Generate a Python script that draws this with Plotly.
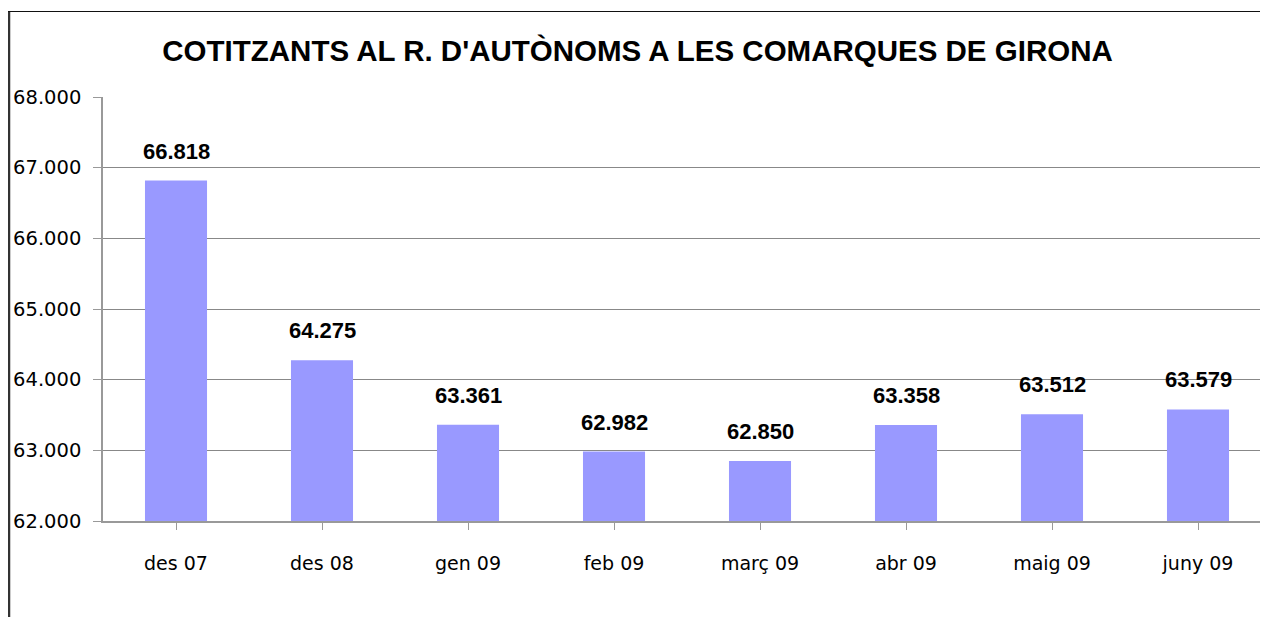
import plotly.graph_objects as go

categories = ["des 07", "des 08", "gen 09", "feb 09", "març 09", "abr 09", "maig 09", "juny 09"]
values = [66818, 64275, 63361, 62982, 62850, 63358, 63512, 63579]
y_ticks = [62000, 63000, 64000, 65000, 66000, 67000, 68000]
y_tick_labels = ["62.000", "63.000", "64.000", "65.000", "66.000", "67.000", "68.000"]
title_text = "COTITZANTS AL R. D'AUTÒNOMS A LES COMARQUES DE GIRONA"

# page is offset by the default 8px body margin
OFF = 8
W, H = 1268 - OFF, 617 - OFF
L, R, T, B = 103 - OFF, 0, 97 - OFF, 617 - 521
pw = W - L - R
ph = H - T - B
cat_px = 146.0

fig = go.Figure()
fig.add_trace(go.Bar(
    x=list(range(len(categories))), y=values,
    marker=dict(color="#9999FF", line=dict(width=0)),
    width=0.425, hoverinfo="skip",
))

annotations = []
for i, v in enumerate(values):
    annotations.append(dict(
        x=i, y=v, xref="x", yref="y", text=f"{v:,}".replace(",", "."),
        showarrow=False, yanchor="bottom", yshift=15,
        font=dict(family="Liberation Sans", size=22, color="black", weight="bold"),
    ))

def px_to_paper_x(px):
    return (px - OFF - L) / pw

def py_to_paper_y(py):
    return 1 + (T - (py - OFF)) / ph

shapes = [
    dict(type="line", xref="paper", yref="paper",
         x0=px_to_paper_x(9), x1=px_to_paper_x(9), y0=py_to_paper_y(11), y1=py_to_paper_y(640),
         line=dict(color="#333333", width=2.5)),
    dict(type="line", xref="paper", yref="paper",
         x0=px_to_paper_x(8), x1=px_to_paper_x(1300), y0=py_to_paper_y(11.5), y1=py_to_paper_y(11.5),
         line=dict(color="#111111", width=1.2)),
]

x_max = -0.5 + pw / cat_px

fig.update_layout(
    width=W, height=H,
    margin=dict(l=L, r=R, t=T, b=B, pad=0),
    paper_bgcolor="white", plot_bgcolor="white",
    separators=",.",
    showlegend=False,
    title=dict(text=title_text, x=(637.5 - OFF) / W, xanchor="center", xref="container",
               y=1 - (51 - OFF) / H, yanchor="middle", yref="container",
               font=dict(family="Liberation Sans", size=29.5, color="black", weight="bold")),
    annotations=annotations,
    shapes=shapes,
    bargap=0.575,
)
fig.update_xaxes(
    range=[-0.5, x_max], tickmode="array", tickvals=list(range(len(categories))),
    ticktext=categories, tickson="boundaries", ticks="outside", ticklen=7,
    tickcolor="#999999", showline=True, linecolor="#999999", linewidth=1.5,
    showgrid=False, zeroline=False, ticklabelstandoff=17,
    tickfont=dict(family="DejaVu Sans", size=19, color="black"),
)
fig.update_yaxes(
    range=[62000, 68000], tickmode="array", tickvals=y_ticks, ticktext=y_tick_labels,
    ticks="outside", ticklen=8, tickcolor="#999999",
    showline=True, linecolor="#999999", linewidth=1.5,
    showgrid=True, gridcolor="#888888", gridwidth=1, zeroline=False,
    ticklabelstandoff=8,
    tickfont=dict(family="DejaVu Sans", size=19.5, color="black"),
)

fig.write_html("out.html")
